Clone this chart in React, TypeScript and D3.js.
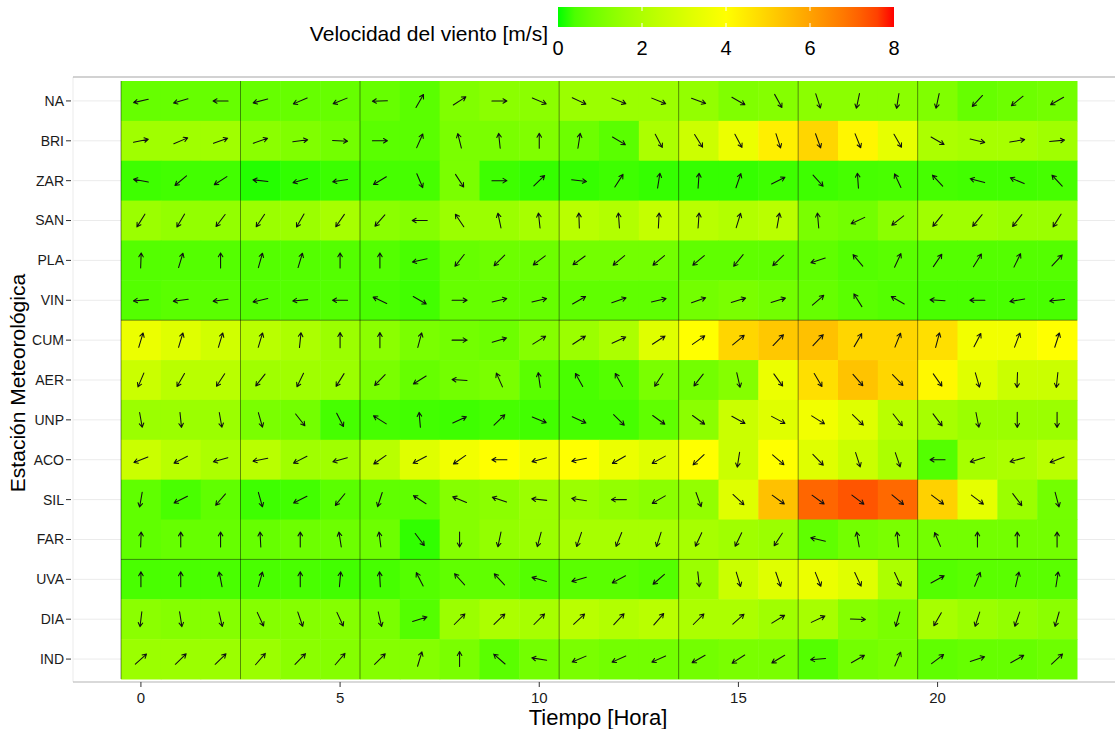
import React from 'react';
import * as d3 from 'd3';

// estaciones (de arriba hacia abajo) y horas
const stations = ['NA', 'BRI', 'ZAR', 'SAN', 'PLA', 'VIN', 'CUM', 'AER', 'UNP', 'ACO', 'SIL', 'FAR', 'UVA', 'DIA', 'IND'];
const hours = [0, 1, 2, 3, 4, 5, 6, 7, 8, 9, 10, 11, 12, 13, 14, 15, 16, 17, 18, 19, 20, 21, 22, 23];
const xTicks = [0, 5, 10, 15, 20];
const legendTicks = [0, 2, 4, 6, 8];
// lineas separadoras
const hourBreaks = [-0.5, 2.5, 5.5, 10.5, 13.5, 16.5, 19.5];
const stationBreaks = ['VIN', 'FAR'];

// velocidad [m/s] por estación
const spdNA = [0.7, 0.7, 0.7, 0.7, 0.7, 0.7, 0.7, 0.55, 1.1, 1.3, 1.3, 1.6, 1.6, 1.6, 1.45, 1.1, 1.2, 1.3, 1.3, 1.3, 1.1, 0.7, 0.8, 0.9];
const spdBRI = [1.7, 1.7, 1.7, 1.3, 1.1, 0.9, 0.55, 0.55, 1.0, 1.0, 1.1, 0.8, 0.55, 1.95, 2.7, 3.5, 4.35, 4.9, 4.2, 3.35, 1.95, 1.85, 1.85, 1.7];
const spdZAR = [0.27, 0.3, 0.3, 0.1, 0.17, 0.24, 0.34, 0.34, 1.0, 0.27, 0.2, 0.2, 0.27, 0.2, 0.2, 0.2, 0.27, 0.27, 0.34, 0.37, 0.34, 0.3, 0.3, 0.34];
const spdSAN = [1.6, 1.45, 1.45, 1.6, 1.6, 1.85, 1.3, 1.2, 1.6, 1.6, 1.85, 2.25, 2.1, 2.5, 2.25, 2.1, 2.25, 1.0, 0.9, 1.3, 1.7, 1.7, 1.6, 1.6];
const spdPLA = [0.48, 0.48, 0.48, 0.48, 0.48, 0.48, 0.48, 0.37, 0.7, 0.8, 0.8, 0.9, 0.9, 0.9, 0.62, 0.62, 0.62, 0.62, 0.48, 0.55, 0.48, 0.48, 0.48, 0.48];
const spdVIN = [0.48, 0.55, 0.55, 0.48, 0.48, 0.48, 0.37, 0.3, 0.7, 0.7, 0.7, 0.62, 0.62, 0.62, 0.9, 1.0, 0.9, 0.7, 0.55, 0.48, 0.37, 0.37, 0.37, 0.37];
const spdCUM = [3.5, 3.15, 2.8, 2.25, 1.95, 1.6, 1.3, 1.0, 0.9, 0.8, 1.2, 1.6, 1.95, 3.15, 4.0, 4.9, 5.2, 5.35, 4.9, 4.9, 4.7, 3.65, 3.65, 4.0];
const spdAER = [2.65, 2.25, 2.25, 1.7, 1.7, 1.6, 1.0, 0.7, 0.9, 1.0, 0.55, 0.37, 0.48, 1.0, 0.9, 1.2, 3.5, 4.7, 5.3, 4.9, 4.15, 3.15, 2.65, 2.65];
const spdUNP = [1.6, 1.6, 1.6, 1.0, 0.9, 0.34, 0.34, 0.3, 0.27, 0.34, 0.3, 0.34, 0.34, 0.62, 1.3, 2.65, 3.15, 3.65, 3.15, 2.25, 1.85, 1.6, 1.6, 1.6];
const spdACO = [2.65, 2.25, 1.95, 2.25, 1.7, 1.7, 2.25, 3.15, 3.65, 4.0, 3.65, 4.0, 3.5, 3.15, 4.0, 2.65, 4.0, 3.15, 2.65, 1.95, 0.48, 1.85, 1.95, 2.25];
const spdSIL = [0.62, 0.37, 0.62, 0.27, 0.3, 0.55, 0.62, 0.62, 1.2, 1.3, 1.6, 1.6, 1.45, 1.3, 1.45, 3.15, 5.35, 7.1, 7.35, 7.05, 5.0, 3.35, 1.6, 0.9];
const spdFAR = [0.62, 0.7, 0.7, 0.7, 0.8, 0.8, 0.8, 0.17, 1.2, 1.45, 1.6, 1.85, 1.85, 1.85, 1.85, 1.7, 1.6, 0.62, 0.9, 1.0, 0.9, 0.9, 0.9, 0.9];
const spdUVA = [0.37, 0.37, 0.37, 0.37, 0.37, 0.3, 0.34, 0.48, 0.62, 0.62, 0.48, 0.55, 0.55, 0.48, 1.6, 2.65, 3.15, 3.5, 3.15, 1.95, 0.48, 0.55, 0.55, 0.55];
const spdDIA = [1.3, 1.2, 1.2, 1.2, 1.2, 1.2, 1.0, 0.48, 1.6, 1.95, 1.85, 2.25, 2.1, 2.25, 1.95, 1.95, 1.7, 1.85, 1.2, 1.0, 1.85, 1.6, 1.45, 1.3];
const spdIND = [1.6, 1.6, 1.6, 1.6, 1.3, 1.2, 1.2, 1.2, 1.0, 0.55, 0.9, 1.0, 0.9, 0.9, 0.9, 1.0, 1.0, 0.48, 0.9, 1.0, 0.62, 0.7, 0.7, 0.8];

// dirección hacia donde apunta la flecha (grados, 0 = este, 90 = norte)
const dirNA = [193, 196, 180, 195, 203, 202, 182, 60, 33, 0, -23, -25, -22, -22, -20, -30, -61, -72, 258, 261, 258, 227, 219, 210];
const dirBRI = [12, 23, 20, 19, 8, -3, 0, 66, 104, 96, 90, 81, -31, -62, -58, -62, -72, -70, -68, -60, -30, -13, 10, 5];
const dirZAR = [169, 220, 213, 173, 196, 189, 211, -67, -57, 0, 44, -7, 57, 81, 86, 71, 27, -48, 94, 115, 133, 165, 157, 133];
const dirSAN = [238, 239, 233, 236, 240, 235, 229, 180, 124, 102, 96, 92, 94, 87, 86, 73, 80, 95, 205, 218, 231, 231, 232, 238];
const dirPLA = [88, 73, 90, 74, 73, 90, 90, 193, 232, 225, 217, 216, 220, 220, 220, 231, 224, 198, 130, 65, 56, 58, 64, 47];
const dirVIN = [185, 187, 187, 193, 185, 180, 155, -30, 0, 13, 13, 30, 19, 13, 20, 17, 17, 41, 122, 150, 176, 180, 190, 186];
const dirCUM = [73, 73, 73, 73, 84, 90, 90, 75, 0, 17, 32, 33, 25, 33, 35, 40, 46, 47, 60, 68, 75, 63, 69, 72];
const dirAER = [247, 240, 237, 232, 244, 238, 226, 212, 176, 114, 98, 119, 119, 237, 232, -77, -54, -59, -49, -46, -55, -74, 268, 264];
const dirUNP = [-80, -84, -80, -74, -52, -63, 148, 95, 25, 44, -22, -25, -45, -36, -36, -29, -28, -32, -44, -52, -53, -79, 270, 270];
const dirACO = [202, 207, 196, 191, 207, 196, 215, 208, 215, 180, 195, 192, 210, 209, 223, 261, -41, -46, -72, -71, 180, 197, 196, 202];
const dirSIL = [260, 207, 229, -74, 207, 231, 252, 147, 157, 161, 174, 171, 180, 210, -70, -43, -36, -36, -37, -40, -37, -37, -53, -75];
const dirFAR = [88, 90, 90, 93, 90, 99, 97, -53, 270, 258, 255, 251, 248, 252, 245, 244, 237, 167, 100, 96, 113, 90, 90, 90];
const dirUVA = [90, 90, 101, 74, 90, 85, 93, 117, 132, 133, 164, 196, 208, 221, -84, -73, -71, -68, -65, -65, 29, 68, 77, 81];
const dirDIA = [263, -81, -77, -65, -71, -65, -77, 17, 45, 44, 45, 43, 47, 49, 45, 42, 32, 25, -2, 254, 240, 252, 251, 254];
const dirIND = [42, 44, 44, 49, 46, 49, 45, 73, 90, 139, 171, 203, 204, 204, 210, 213, 211, 185, 30, 67, 37, 18, 30, 43];

const speedRows = [spdNA, spdBRI, spdZAR, spdSAN, spdPLA, spdVIN, spdCUM, spdAER, spdUNP, spdACO, spdSIL, spdFAR, spdUVA, spdDIA, spdIND];
const dirRows = [dirNA, dirBRI, dirZAR, dirSAN, dirPLA, dirVIN, dirCUM, dirAER, dirUNP, dirACO, dirSIL, dirFAR, dirUVA, dirDIA, dirIND];

const cells = stations.flatMap((s, i) =>
  hours.map((h, j) => ({ station: s, hour: h, speed: speedRows[i][j], dir: dirRows[i][j] }))
);

const FONT = '"Liberation Sans", Arial, sans-serif';
const W = 1116;
const H = 729;

const App = () => {
  // escalas
  const x = d3.scaleLinear().domain([-0.5, 23.5]).range([121, 1077]);
  const y = d3.scaleBand<string>().domain(stations).range([81, 679]);
  const color = d3.scaleLinear<string>()
    .domain([0, 4, 8])
    .range(['#00ff00', '#ffff00', '#ff0000'])
    .interpolate(d3.interpolateLab);
  const legendX = d3.scaleLinear().domain([0, 8]).range([558, 894]);

  const panel = { left: 73, right: 1115, top: 77, bottom: 682 };
  const cw = x(0.5) - x(-0.5);
  const bh = y.bandwidth();
  const half = 7.5; // media longitud de la flecha
  const head = 4.5;

  const arrowPath = (cx: number, cy: number, deg: number) => {
    const a = (deg * Math.PI) / 180;
    const ux = Math.cos(a);
    const uy = -Math.sin(a);
    const x0 = cx - ux * half, y0 = cy - uy * half;
    const x1 = cx + ux * half, y1 = cy + uy * half;
    const ang = Math.atan2(uy, ux);
    const h1x = x1 - head * Math.cos(ang - Math.PI / 6);
    const h1y = y1 - head * Math.sin(ang - Math.PI / 6);
    const h2x = x1 - head * Math.cos(ang + Math.PI / 6);
    const h2y = y1 - head * Math.sin(ang + Math.PI / 6);
    return `M${x0},${y0}L${x1},${y1}M${h1x},${h1y}L${x1},${y1}L${h2x},${h2y}`;
  };

  const stops = d3.range(0, 1.0001, 0.05);

  return (
    <svg width={W} height={H} style={{ position: 'absolute', left: 0, top: 0, background: '#fff' }} fontFamily={FONT}>
      <defs>
        <linearGradient id="legGrad" x1="0" x2="1" y1="0" y2="0">
          {stops.map((t) => (
            <stop key={t} offset={t} stopColor={color(t * 8)} />
          ))}
        </linearGradient>
      </defs>

      {/* rejilla */}
      {stations.map((s) => (
        <line key={s} x1={panel.left} x2={panel.right} y1={y(s)! + bh / 2} y2={y(s)! + bh / 2} stroke="#ebebeb" strokeWidth={1} />
      ))}
      <line x1={panel.left} x2={panel.left} y1={panel.top} y2={panel.bottom} stroke="#ebebeb" />
      <line x1={panel.left} x2={panel.right} y1={panel.top} y2={panel.top} stroke="#a6a6a6" strokeWidth={1.2} />

      {/* celdas */}
      {cells.map((c) => (
        <rect key={`${c.station}-${c.hour}`} x={x(c.hour - 0.5)} y={y(c.station)} width={cw + 0.5} height={bh + 0.5} fill={color(c.speed)} />
      ))}

      {/* separadores */}
      {hourBreaks.map((h) => (
        <line key={h} x1={x(h)} x2={x(h)} y1={y.range()[0]} y2={y.range()[1]} stroke="#000" strokeOpacity={0.45} strokeWidth={1} />
      ))}
      {stationBreaks.map((s) => (
        <line key={s} x1={x(-0.5)} x2={x(23.5)} y1={y(s)! + bh} y2={y(s)! + bh} stroke="#000" strokeOpacity={0.45} strokeWidth={1} />
      ))}

      {/* flechas */}
      <g fill="none" stroke="#111" strokeWidth={1.05} strokeLinecap="round" strokeLinejoin="round">
        {cells.map((c) => (
          <path key={`a-${c.station}-${c.hour}`} d={arrowPath(x(c.hour), y(c.station)! + bh / 2, c.dir)} />
        ))}
      </g>

      {/* eje x */}
      <line x1={panel.left} x2={panel.right} y1={panel.bottom} y2={panel.bottom} stroke="#b3b3b3" strokeWidth={1.2} />
      {xTicks.map((t) => (
        <g key={t}>
          <line x1={x(t)} x2={x(t)} y1={panel.bottom} y2={panel.bottom + 5} stroke="#333" />
          <text x={x(t)} y={703} textAnchor="middle" fontSize={15} fill="#1a1a1a">{t}</text>
        </g>
      ))}
      <text x={598} y={725} textAnchor="middle" fontSize={22} fill="#000">Tiempo [Hora]</text>

      {/* eje y */}
      {stations.map((s) => (
        <g key={`t-${s}`}>
          <line x1={66} x2={71} y1={y(s)! + bh / 2} y2={y(s)! + bh / 2} stroke="#333" />
          <text x={64} y={y(s)! + bh / 2} dy="0.35em" textAnchor="end" fontSize={14} fill="#1a1a1a">{s}</text>
        </g>
      ))}
      <text transform="translate(25,383) rotate(-90)" textAnchor="middle" fontSize={21} fill="#000">Estación Meteorológica</text>

      {/* leyenda */}
      <text x={548} y={41} textAnchor="end" fontSize={21} fill="#000">Velocidad del viento [m/s]</text>
      <rect x={legendX(0)} y={7} width={legendX(8) - legendX(0)} height={20} fill="url(#legGrad)" />
      {legendTicks.map((t) => (
        <g key={`l-${t}`}>
          {t > 0 && t < 8 && (
            <>
              <line x1={legendX(t)} x2={legendX(t)} y1={7} y2={11} stroke="#fff" strokeWidth={1} />
              <line x1={legendX(t)} x2={legendX(t)} y1={23} y2={27} stroke="#fff" strokeWidth={1} />
            </>
          )}
          <text x={legendX(t)} y={55} textAnchor="middle" fontSize={20} fill="#000">{t}</text>
        </g>
      ))}
    </svg>
  );
};

export default App;
